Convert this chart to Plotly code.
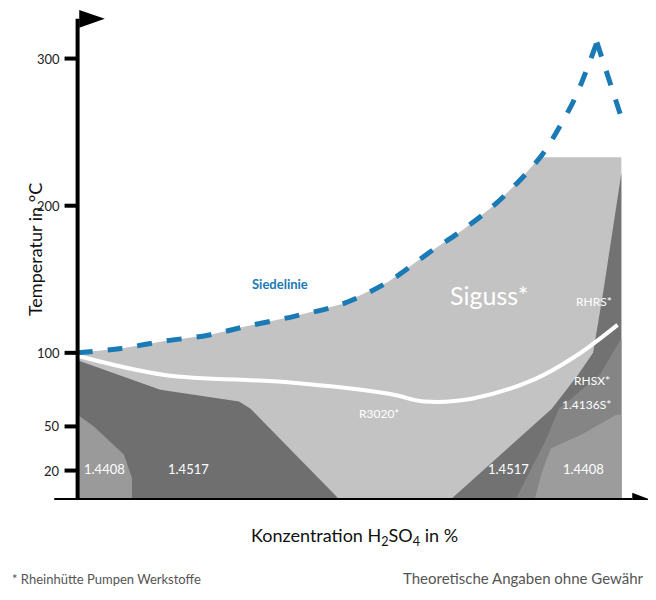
import plotly.graph_objects as go

# Boiling line (Siedelinie): rising part and falling part after the peak
boil_x = [0, 8, 16, 24, 31, 40, 48.5, 57, 65, 71, 76.5, 81, 85.5, 89, 91.7, 95.5]
boil_t = [100, 103, 108, 112, 118, 125, 133, 148, 169, 184, 200, 216, 235, 256, 275, 311]
boil2_x = [95.5, 100]
boil2_t = [311, 260]
# Siguss region (light gray)
sig_x = [0, 8, 16, 24, 31, 40, 48.5, 57, 65, 71, 76.5, 81, 85, 100, 100, 0]
sig_t = [100, 103, 108, 112, 118, 125, 133, 148, 169, 184, 200, 216, 233, 233, 0, 0]
# Left dark (1.4517)
ld_x = [0, 0, 15.2, 29.7, 31.8, 47.7, 48, 0]
ld_t = [0, 95, 75, 67, 62, 2, 0, 0]
# Right dark (1.4517 / RHSX / RHRS)
rd_x = [68.5, 87.2, 92, 94.8, 96.6, 100, 100]
rd_t = [0, 62, 85, 100, 140, 222, 0]
# 1.4136S mid strip
md_x = [80.5, 86, 88.5, 96, 100, 100]
md_t = [0, 40, 62, 85, 110, 0]
# Left 1.4408
l1_x = [0, 0, 3, 8.5, 10, 10]
l1_t = [0, 58, 50, 31, 15, 0]
# Right 1.4408
r1_x = [84, 85.5, 87, 93, 99, 100, 100]
r1_t = [0, 20, 35, 45, 58, 58, 0]
# R3020 boundary (white line)
w_x = [0, 16, 38.7, 57.5, 63.7, 72.7, 84, 91.7, 99.3]
w_t = [98, 85, 80, 72, 67, 69, 82, 98, 119]

ytick_vals = [20, 50, 100, 200, 300]
xtick_vals = [0, 50, 100]

labels = [
    ("Siguss*", 75.6, 139, 25), ("RHRS*", 95, 135, 12), ("RHSX*", 94.6, 81, 12),
    ("1.4136S*", 93.5, 65, 12), ("R3020*", 55.5, 59, 12), ("1.4408", 5, 21, 13),
    ("1.4517", 20.4, 21, 13), ("1.4517", 79.2, 21, 13), ("1.4408", 93, 21, 13),
]

fig = go.Figure()
def poly(x, t, c):
    fig.add_trace(go.Scatter(x=x, y=t, fill="toself", fillcolor=c, mode="lines",
                             line=dict(width=0), hoverinfo="skip"))
poly(sig_x, sig_t, "#c3c3c3")
poly(rd_x, rd_t, "#727272")
poly(md_x, md_t, "#858585")
poly(r1_x, r1_t, "#9c9c9c")
poly(ld_x, ld_t, "#6f6f6f")
poly(l1_x, l1_t, "#9a9a9a")
fig.add_trace(go.Scatter(x=w_x, y=w_t, mode="lines", line=dict(color="white", width=4, shape="spline")))
blue = dict(color="#1a7ab5", width=5, dash="dash")
fig.add_trace(go.Scatter(x=boil_x, y=boil_t, mode="lines", line=dict(**blue, shape="spline")))
fig.add_trace(go.Scatter(x=boil2_x, y=boil2_t, mode="lines", line=blue))

F = "Lato"
for s, x, t, sz in labels:
    fig.add_annotation(x=x, y=t, text=s, showarrow=False, font=dict(color="white", size=sz, family=F))
fig.add_annotation(x=37.3, y=147, text="<b>Siedelinie</b>", showarrow=False,
                   font=dict(color="#1a7ab5", size=13, family=F))

# axes
fig.add_shape(type="line", x0=0, x1=0, y0=0, y1=327, line=dict(color="black", width=4))
fig.add_shape(type="line", x0=-4.3, x1=102, y0=0, y1=0, line=dict(color="black", width=4))
fig.add_shape(type="path", path="M 0.3 333 L 5 327 L 0.3 321 Z", fillcolor="black", line=dict(width=0))
fig.add_shape(type="path", path="M 102 5 L 105.5 0 L 102 -5 Z", fillcolor="black", line=dict(width=0))
for v in ytick_vals:
    fig.add_shape(type="line", x0=-2.4, x1=0, y0=v, y1=v, line=dict(color="black", width=4))
    fig.add_annotation(x=-2.8, y=v, text=str(v), showarrow=False, xanchor="right",
                       font=dict(size=13, family=F, color="#222"))
for v in xtick_vals:
    fig.add_shape(type="line", x0=v, x1=v, y0=0, y1=-7, line=dict(color="black", width=4))
    fig.add_annotation(x=v, y=-16, text=str(v), showarrow=False, font=dict(size=13, family=F, color="#222"))

fig.add_annotation(x=0.5, y=0, xref="paper", yref="paper", showarrow=False, yshift=-51,
                   text="Konzentration H<sub>2</sub>SO<sub>4</sub> in %", font=dict(size=18, family=F, color="#111"))
fig.add_annotation(x=0, y=0.51, xref="paper", yref="paper", showarrow=False, textangle=-90, xshift=-32,
                   text="Temperatur in °C", font=dict(size=18, family=F, color="#111"))
fig.add_annotation(x=0.0, y=0, xref="paper", yref="paper", showarrow=False, yshift=-89,
                   text="* Rheinhütte Pumpen Werkstoffe", xanchor="left", xshift=-44,
                   font=dict(size=13, family=F, color="#555"))
fig.add_annotation(x=1, y=0, xref="paper", yref="paper", showarrow=False, yshift=-89,
                   text="Theoretische Angaben ohne Gewähr", xanchor="right", xshift=-8,
                   font=dict(size=15, family=F, color="#555"))

fig.update_layout(width=656, height=600, margin=dict(l=46, r=10, t=2, b=108),
                  plot_bgcolor="white", paper_bgcolor="white", showlegend=False,
                  xaxis=dict(range=[-4.34, 106], visible=False),
                  yaxis=dict(range=[0, 333], visible=False))
fig.write_html("out.html")
